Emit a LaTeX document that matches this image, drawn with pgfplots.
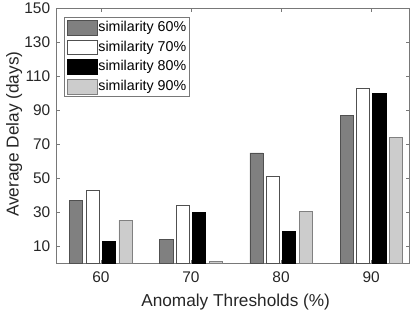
\documentclass[border=0pt]{standalone}
\usepackage{pgfplots}
\pgfplotsset{compat=1.18}
\usepackage{fontspec}
\setmainfont{Liberation Sans}
\definecolor{c60}{RGB}{128,128,128}
\definecolor{c90}{RGB}{204,204,204}
\definecolor{axgray}{RGB}{120,120,120}
\definecolor{edgegray}{RGB}{80,80,80}
\pgfplotsset{sqlegend/.style={legend image code/.code={\draw[##1] (0bp,-7.3bp) rectangle (30bp,7.3bp);}}}
\begin{document}
\begin{tikzpicture}
\useasboundingbox (-56.7bp,-48.5bp) rectangle (358.3bp,263.5bp);
\begin{axis}[
  at={(0,0)}, anchor=south west,
  scale only axis, width=352.3bp, height=255.2bp,
  xmin=55.1, xmax=94.2, ymin=0, ymax=150,
  xtick={60,70,80,90}, ytick={10,30,50,70,90,110,130,150},
  tick align=inside, xtick pos=both, ytick pos=both,
  major tick length=3.5bp,
  axis line style={axgray, line width=0.6bp},
  every tick/.style={axgray, line width=0.6bp},
  /pgf/number format/assume math mode=true,
  ticklabel style={font=\fontsize{15.5}{18}\selectfont, text=black!85},
  xticklabel style={yshift=-5bp},
  yticklabel style={xshift=-3bp},
  xlabel={Anomaly Thresholds (\%)},
  ylabel={Average Delay (days)},
  label style={font=\fontsize{17.3}{20}\selectfont, text=black!85},
  xlabel style={at={(axis description cs:0.508,-0.168)}, anchor=base},
  ylabel style={at={(axis description cs:-0.121,0.507)}, anchor=center, rotate=0},
  legend cell align=left,
  legend style={at={(axis description cs:0,1)}, anchor=north west,
    xshift=7.6bp, yshift=-9bp, draw=axgray, line width=0.6bp,
    inner xsep=2.5bp, inner ysep=2.5bp, row sep=4.3bp,
    font=\fontsize{14.3}{16}\selectfont,
    nodes={inner sep=0.6bp, text height=10.5bp, text depth=3bp}},
]
\addplot[ybar, bar width=1.45, bar shift=-2.73, fill=c60, draw=edgegray, line width=0.7bp, sqlegend]
  coordinates {(60,37) (70,14) (80,65) (90,87)};
\addplot[ybar, bar width=1.45, bar shift=-0.91, fill=white, draw=edgegray, line width=0.7bp, sqlegend]
  coordinates {(60,43) (70,34) (80,51) (90,103)};
\addplot[ybar, bar width=1.45, bar shift=0.91, fill=black, draw=black, line width=0.7bp, sqlegend]
  coordinates {(60,13) (70,30) (80,19) (90,100)};
\addplot[ybar, bar width=1.45, bar shift=2.73, fill=c90, draw=c60, line width=0.7bp, sqlegend]
  coordinates {(60,25.5) (70,1) (80,30.4) (90,74)};
\legend{similarity 60\%, similarity 70\%, similarity 80\%, similarity 90\%}
\end{axis}
\end{tikzpicture}
\end{document}
